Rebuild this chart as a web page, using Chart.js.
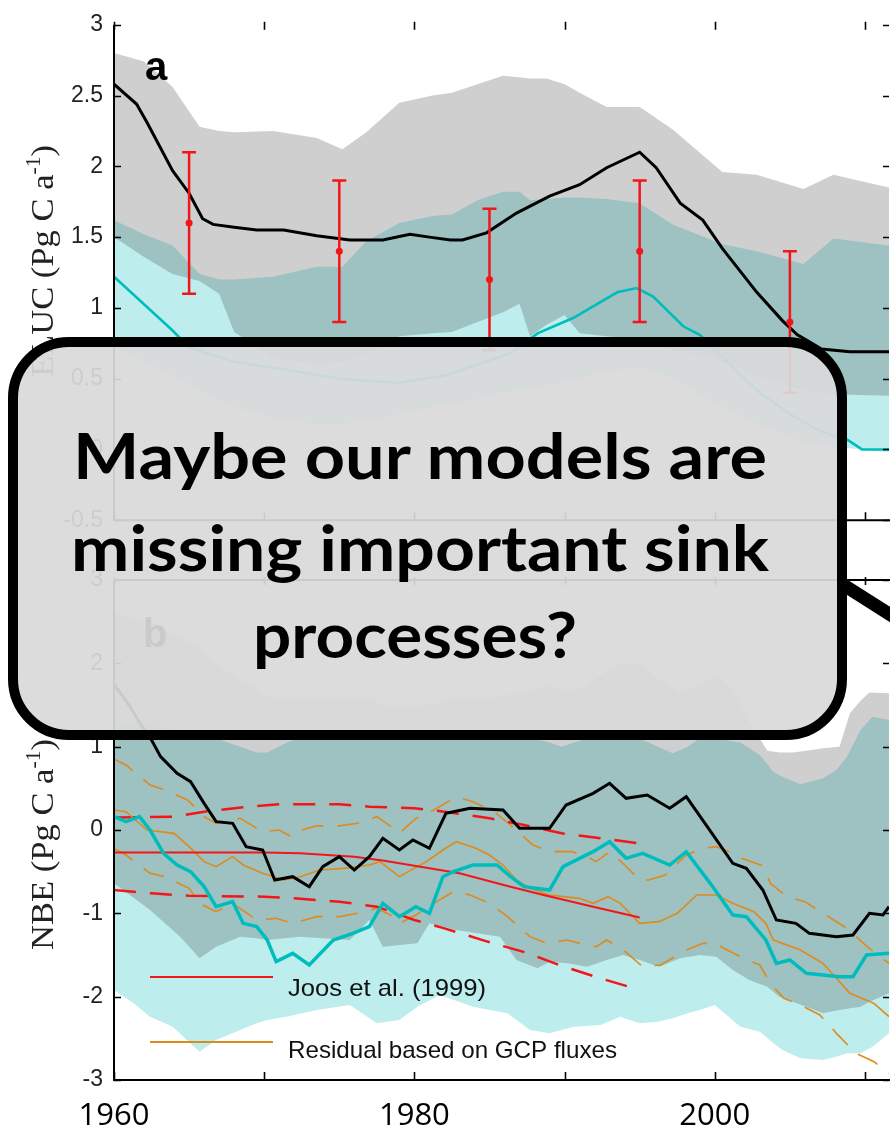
<!DOCTYPE html>
<html>
<head>
<meta charset="utf-8">
<script src="https://cdn.jsdelivr.net/npm/chart.js@4.4.1/dist/chart.umd.min.js"></script>
<style>
    html, body { margin: 0; padding: 0; background: #fff; overflow: hidden; }
    body { width: 890px; height: 1133px; position: relative; }
    canvas { position: absolute; left: 0; }
    #chartA { top: 0; }
    #chartB { top: 545px; }
    #callout { position: absolute; left: 0; top: 0; }
</style>
</head>
<body>
<canvas id="chartA" width="890" height="545"></canvas>
<canvas id="chartB" width="890" height="588"></canvas>

<svg id="callout" width="890" height="1133">
    <line x1="842" y1="584" x2="905" y2="624" stroke="#000" stroke-width="13"/>
    <rect x="13" y="342" width="829" height="393" rx="56" ry="56"
          fill="rgba(217,217,217,0.93)" stroke="#000" stroke-width="10"/>
    <g font-family="Lato" font-weight="bold" font-size="63" fill="#000" text-anchor="middle">
        <text x="420" y="479" textLength="694" lengthAdjust="spacingAndGlyphs">Maybe our models are</text>
        <text x="420" y="571" textLength="698" lengthAdjust="spacingAndGlyphs">missing important sink</text>
        <text x="415" y="658" textLength="324" lengthAdjust="spacingAndGlyphs">processes?</text>
    </g>
</svg>

<script>
// AXES
const X_MIN = 1960;
const X_MAX = 2011.6;
const decadeTicks = [1960, 1970, 1980, 1990, 2000, 2010];
const decadeLabels = ["1960", "", "1980", "", "2000", ""];
const aTicks = [-0.5, 0, 0.5, 1, 1.5, 2, 2.5, 3];
const bTicks = [-3, -2, -1, 0, 1, 2, 3];

// PANEL A - land use change flux
const aBandYears = [1960, 1962, 1963.9, 1965.7, 1967, 1968, 1970.6, 1973.5, 1975.2, 1976.8, 1979, 1981.2, 1982.5, 1984.2, 1985.9, 1987, 1987.7, 1988.8, 1990, 1991, 1992.8, 1995, 1997.2, 2000.5, 2002.8, 2005.9, 2007.9, 2011.6];
const aGrayUpper = [2.80, 2.74, 2.56, 2.28, 2.25, 2.24, 2.25, 2.20, 2.12, 2.24, 2.45, 2.50, 2.52, 2.58, 2.64, 2.63, 2.62, 2.62, 2.58, 2.52, 2.42, 2.42, 2.26, 1.96, 1.94, 1.84, 1.94, 1.85];
const aGrayLower = [1.50, 1.36, 1.24, 1.19, 1.10, 0.83, 0.65, 0.60, 0.62, 0.68, 0.80, 0.82, 0.83, 0.90, 0.97, 1.03, 0.80, 0.88, 0.95, 0.82, 0.80, 0.78, 0.70, 0.62, 0.52, 0.42, 0.39, 0.38];
const aCyanUpper = [1.62, 1.52, 1.44, 1.24, 1.20, 1.20, 1.22, 1.29, 1.29, 1.47, 1.60, 1.65, 1.66, 1.76, 1.82, 1.82, 1.76, 1.77, 1.78, 1.78, 1.77, 1.74, 1.59, 1.45, 1.40, 1.31, 1.49, 1.44];
const aCyanLower = [0.72, 0.62, 0.52, 0.42, 0.35, 0.30, 0.22, 0.18, 0.18, 0.20, 0.25, 0.30, 0.32, 0.36, 0.40, 0.42, 0.43, 0.45, 0.48, 0.50, 0.55, 0.58, 0.50, 0.30, 0.18, 0.05, 0.02, -0.02];

const aBlackYears = [1960, 1961.5, 1962.2, 1963.9, 1965, 1965.9, 1966.6, 1968, 1969.5, 1971.3, 1973.5, 1975.7, 1977.9, 1979.7, 1981, 1982.4, 1983.2, 1984.8, 1986.8, 1989, 1991, 1992.8, 1995, 1996.1, 1997.7, 1999.2, 2000.5, 2002.8, 2004.5, 2005.5, 2006.3, 2007.1, 2009, 2011.6];
const aBlackVals = [2.58, 2.44, 2.31, 1.97, 1.81, 1.63, 1.59, 1.57, 1.55, 1.55, 1.51, 1.48, 1.48, 1.52, 1.50, 1.48, 1.48, 1.53, 1.67, 1.79, 1.87, 1.99, 2.10, 1.99, 1.74, 1.62, 1.42, 1.11, 0.91, 0.81, 0.76, 0.71, 0.69, 0.69];

const aCyanYears = [1960, 1963.9, 1965, 1968, 1971, 1975, 1978.8, 1982, 1986.4, 1988.2, 1990.6, 1993.5, 1994.8, 1995.9, 1997.9, 1999, 2001, 2003, 2005, 2007, 2008.8, 2009.8, 2011.6];
const aCyanVals = [1.22, 0.84, 0.72, 0.62, 0.57, 0.50, 0.47, 0.52, 0.68, 0.82, 0.93, 1.11, 1.14, 1.08, 0.87, 0.81, 0.60, 0.40, 0.25, 0.13, 0.07, 0.00, 0.00];

const aErrYears = [1965, 1975, 1985, 1995, 2005];
const aErrMid = [1.6, 1.4, 1.2, 1.4, 0.9];
const aErrLow = [1.1, 0.9, 0.7, 0.9, 0.4];
const aErrHigh = [2.1, 1.9, 1.7, 1.9, 1.4];

// PANEL B - net biome exchange
const bGrayYears = [1960, 1962.4, 1964.4, 1965.7, 1966.8, 1968.4, 1969.5, 1970.2, 1972.4, 1975.7, 1977, 1977.9, 1980.2, 1981, 1982.8, 1985.7, 1986.8, 1988.2, 1989, 1990.2, 1991.5, 1992.8, 1993.9, 1995, 1996.3, 1997.7, 1999, 2000.1, 2001.2, 2002.3, 2003.5, 2004.3, 2005.2, 2006.1, 2007.2, 2008.3, 2009, 2009.7, 2010.3, 2011.6];
const bGrayUpper = [2.6, 2.5, 2.3, 2.2, 2.0, 1.8, 1.7, 1.6, 1.6, 1.6, 1.6, 1.5, 1.5, 1.5, 1.6, 1.6, 1.65, 1.7, 1.75, 1.65, 1.75, 1.9, 2.0, 2.0, 1.8, 1.65, 1.75, 1.85, 1.7, 1.3, 0.95, 0.93, 0.93, 0.95, 0.98, 1.0, 1.4, 1.55, 1.65, 1.64];
const bGrayLower = [-0.64, -0.96, -1.28, -1.54, -1.40, -1.28, -1.30, -1.32, -1.28, -1.32, -1.08, -1.40, -1.36, -1.12, -1.20, -1.28, -1.56, -1.66, -1.58, -1.60, -1.64, -1.56, -1.50, -1.56, -1.64, -1.54, -1.50, -1.52, -1.68, -1.80, -1.88, -2.00, -2.06, -2.12, -2.20, -2.16, -2.14, -2.12, -2.06, -1.96];

const bCyanBandYears = [1960, 1961.3, 1962.4, 1963.9, 1965.7, 1966.8, 1968.4, 1969.5, 1970.2, 1971.5, 1973.5, 1975.7, 1977.5, 1979, 1980.2, 1981.7, 1983.9, 1986.2, 1987.7, 1989, 1989.8, 1990.6, 1992.4, 1993.7, 1995, 1996.2, 1997.2, 1998.2, 1999, 2000, 2001.7, 2003, 2003.9, 2004.5, 2005.7, 2007.2, 2008.1, 2008.8, 2009.7, 2010.5, 2011.6];
const bCyanUpper = [1.3, 1.3, 1.25, 1.2, 1.15, 1.1, 1.0, 0.93, 0.93, 1.05, 1.2, 1.2, 1.2, 1.2, 1.2, 1.2, 1.15, 1.15, 1.1, 1.05, 1.0, 1.05, 1.15, 1.15, 1.1, 1.0, 0.92, 1.0, 1.1, 1.1, 1.05, 0.9, 0.7, 0.64, 0.55, 0.62, 0.72, 0.88, 1.2, 1.36, 1.32];
const bCyanLower = [-1.92, -2.08, -2.24, -2.36, -2.66, -2.52, -2.40, -2.32, -2.28, -2.24, -2.16, -2.10, -2.32, -2.28, -2.12, -1.98, -2.12, -2.20, -2.40, -2.44, -2.40, -2.36, -2.34, -2.24, -2.32, -2.30, -2.26, -2.20, -2.16, -2.10, -2.36, -2.42, -2.56, -2.64, -2.74, -2.76, -2.72, -2.68, -2.68, -2.60, -2.44];

const bBlackYears = [1960, 1961, 1962, 1962.5, 1963.1, 1964.2, 1965.1, 1966, 1966.8, 1967.9, 1968.8, 1969.9, 1970.7, 1971.9, 1973, 1973.9, 1975, 1976, 1977, 1977.9, 1979, 1979.9, 1981, 1982.1, 1983.7, 1985.9, 1987, 1989, 1990.1, 1991.9, 1993, 1994.1, 1995.5, 1997, 1998.1, 1999.5, 2001.2, 2002.1, 2003.2, 2004.1, 2005.4, 2006.3, 2008.1, 2009.2, 2010.3, 2011.2, 2011.6];
const bBlackVals = [1.75, 1.5, 1.2, 1.08, 0.88, 0.68, 0.58, 0.32, 0.10, 0.08, -0.20, -0.24, -0.60, -0.56, -0.68, -0.44, -0.32, -0.48, -0.32, -0.10, -0.24, -0.12, -0.22, 0.20, 0.26, 0.24, 0.02, 0.02, 0.30, 0.44, 0.56, 0.38, 0.42, 0.26, 0.40, 0.04, -0.40, -0.46, -0.72, -1.08, -1.12, -1.24, -1.28, -1.26, -1.00, -1.02, -0.92];

const bCyanYears = [1960, 1960.8, 1961.7, 1962.4, 1963.3, 1964.2, 1965.1, 1966, 1966.8, 1967.9, 1968.6, 1969.5, 1970.2, 1970.8, 1971.9, 1973, 1974.6, 1975.9, 1977, 1977.9, 1979, 1980.1, 1981, 1981.9, 1982.6, 1983.9, 1985.5, 1986.4, 1987.3, 1989, 1989.9, 1991.9, 1993, 1994.1, 1995.2, 1997, 1998.1, 1999.7, 2001.2, 2002.1, 2003.4, 2004.1, 2005, 2006.1, 2008.3, 2009.2, 2010.1, 2011.6];
const bCyanVals = [0.16, 0.10, 0.16, 0.0, -0.28, -0.42, -0.50, -0.68, -0.92, -0.86, -1.12, -1.16, -1.32, -1.58, -1.48, -1.62, -1.32, -1.24, -1.16, -0.88, -1.04, -0.92, -1.0, -0.56, -0.50, -0.42, -0.42, -0.56, -0.68, -0.72, -0.44, -0.26, -0.14, -0.34, -0.28, -0.42, -0.26, -0.64, -1.02, -1.04, -1.32, -1.60, -1.56, -1.72, -1.76, -1.76, -1.50, -1.48];

const joosYears = [1960, 1965, 1970, 1972.4, 1976, 1978, 1980.4, 1983, 1986.4, 1988.6, 1991.9, 1995];
const joosVals = [-0.27, -0.27, -0.27, -0.28, -0.32, -0.37, -0.44, -0.52, -0.68, -0.78, -0.92, -1.05];
const joosHighYears = [1960, 1964, 1966, 1969, 1971, 1975, 1977, 1980, 1982, 1985, 1987.3, 1989.8, 1992.4, 1995];
const joosHighVals = [0.15, 0.16, 0.22, 0.28, 0.31, 0.31, 0.28, 0.26, 0.22, 0.14, 0.06, -0.04, -0.10, -0.16];
const joosLowYears = [1960, 1962.5, 1965, 1970, 1972, 1975, 1977.5, 1980, 1982, 1984.7, 1987.4, 1989.8, 1992.4, 1995];
const joosLowVals = [-0.72, -0.76, -0.79, -0.80, -0.82, -0.86, -0.92, -1.08, -1.18, -1.33, -1.47, -1.63, -1.78, -1.92];

const gcpYears = [1960, 1960.8, 1962.2, 1964, 1965, 1966, 1966.8, 1967.9, 1968.6, 1969.9, 1971.3, 1972.4, 1973.7, 1975.3, 1977, 1977.7, 1979, 1980.8, 1981.9, 1982.8, 1984.1, 1985, 1985.9, 1986.8, 1987.7, 1989, 1991, 1991.9, 1992.9, 1993.7, 1995, 1996.3, 1997.5, 1998.8, 2000.1, 2001.2, 2002.6, 2003.4, 2003.9, 2005.7, 2007.2, 2009, 2010.6, 2011.6];
const gcpVals = [0.24, 0.22, 0.0, -0.04, -0.20, -0.38, -0.44, -0.32, -0.42, -0.52, -0.60, -0.56, -0.48, -0.46, -0.42, -0.38, -0.56, -0.38, -0.24, -0.14, -0.22, -0.30, -0.42, -0.60, -0.70, -0.78, -0.82, -0.88, -0.80, -0.88, -1.12, -1.10, -1.00, -0.78, -0.78, -0.88, -0.98, -1.12, -1.32, -1.44, -1.60, -1.96, -2.08, -2.24];
const gcpHighYears = [1960, 1960.8, 1962.4, 1963.4, 1964.9, 1966, 1966.8, 1968.4, 1969.9, 1971, 1971.8, 1972.5, 1973.5, 1975, 1976.2, 1977.5, 1978.6, 1979, 1980.1, 1981.3, 1982.8, 1983.9, 1985.3, 1986.4, 1987.9, 1989, 1990.5, 1991.7, 1992.1, 1993, 1994, 1995, 1995.6, 1996.7, 1998.1, 1999.2, 2000.1, 2000.7, 2001.8, 2003.2, 2003.7, 2004.8, 2006, 2007.4, 2008.8, 2009.9, 2010.8, 2011.6];
const gcpHighVals = [0.85, 0.78, 0.54, 0.48, 0.36, 0.16, 0.08, 0.14, -0.02, 0.0, -0.08, 0.0, 0.05, 0.05, 0.08, 0.16, 0.02, -0.04, 0.14, 0.24, 0.40, 0.34, 0.22, 0.06, -0.18, -0.26, -0.26, -0.34, -0.38, -0.26, -0.42, -0.60, -0.60, -0.54, -0.30, -0.22, -0.20, -0.24, -0.34, -0.43, -0.64, -0.80, -0.86, -1.02, -1.18, -1.36, -1.50, -1.60];
const gcpLowYears = [1960, 1960.8, 1962.4, 1963.4, 1965, 1965.7, 1966.8, 1967.9, 1969.5, 1970.8, 1971.9, 1973.5, 1975, 1976.2, 1977.5, 1978.6, 1979, 1980.1, 1981.3, 1982.6, 1983.7, 1985, 1986.2, 1987.7, 1988.8, 1990.2, 1991.4, 1992.1, 1992.8, 1993.9, 1995.2, 1996.4, 1998.1, 1999.2, 2000.1, 2000.6, 2001.7, 2003, 2003.7, 2004.6, 2005.7, 2007, 2008.1, 2009.4, 2010.6, 2011.6];
const gcpLowVals = [-0.22, -0.30, -0.52, -0.56, -0.70, -0.88, -0.98, -0.88, -1.08, -1.06, -1.12, -1.04, -1.04, -1.00, -0.94, -1.04, -1.12, -1.02, -0.88, -0.74, -0.78, -0.88, -1.04, -1.28, -1.36, -1.32, -1.38, -1.40, -1.32, -1.44, -1.64, -1.62, -1.44, -1.36, -1.36, -1.42, -1.52, -1.62, -1.84, -2.02, -2.10, -2.22, -2.44, -2.68, -2.78, -2.92];

const legendNames = ["Joos et al. (1999)", "Residual based on GCP fluxes"];

// COLORS
const GRAY_BAND = "rgba(70,70,70,0.26)";
const CYAN_BAND = "rgb(189,237,237)";
const CYAN = "#00bdbd";
const RED = "#f2161b";
const ORANGE = "#df8a1c";

// HELPERS
function pts(xs, ys) {
    return xs.map((x, i) => ({ x: x, y: ys[i] }));
}

function line(xs, ys, color, width, dash, order) {
    return { data: pts(xs, ys), borderColor: color, borderWidth: width, borderDash: dash || [],
             pointRadius: 0, fill: false, order: order };
}

function bandEdge(xs, ys, order) {
    return { data: pts(xs, ys), borderColor: "rgba(0,0,0,0)", borderWidth: 0, pointRadius: 0,
             fill: false, order: order };
}

function bandFill(xs, ys, target, color, order) {
    return { data: pts(xs, ys), borderColor: "rgba(0,0,0,0)", borderWidth: 0, pointRadius: 0,
             backgroundColor: color, fill: target, order: order };
}

// FRAME (matlab style inward ticks)
function drawFrame(chart, yTicks, topLine) {
    const ctx = chart.ctx;
    const a = chart.chartArea;
    const xs = chart.scales.x;
    const ys = chart.scales.y;

    ctx.save();
    ctx.strokeStyle = "#000";
    ctx.lineWidth = 2;
    ctx.beginPath();
    ctx.moveTo(a.left, a.top);
    ctx.lineTo(a.left, a.bottom);
    ctx.lineTo(a.right + 2, a.bottom);
    if (topLine) {
        ctx.moveTo(a.left, a.top);
        ctx.lineTo(a.right + 2, a.top);
    }
    ctx.stroke();

    ctx.lineWidth = 1.6;
    ctx.beginPath();
    decadeTicks.forEach(v => {
        const px = Math.round(xs.getPixelForValue(v)) + 0.5;
        ctx.moveTo(px, a.bottom); ctx.lineTo(px, a.bottom - 8);
        ctx.moveTo(px, a.top - 3); ctx.lineTo(px, a.top + 5);
    });
    yTicks.forEach(v => {
        const py = Math.round(ys.getPixelForValue(v)) + 0.5;
        ctx.moveTo(a.left, py); ctx.lineTo(a.left + 7, py);
        ctx.moveTo(a.right, py); ctx.lineTo(a.right - 6, py);
    });
    ctx.stroke();
    ctx.restore();
}

// ROTATED Y TITLE
const titleParts = (head) => [
    { text: head, font: "32px 'Liberation Serif'", dy: 0 },
    { text: " (Pg C a", font: "32px 'Liberation Serif'", dy: 0 },
    { text: "-1", font: "20px 'Liberation Serif'", dy: -13 },
    { text: ")", font: "32px 'Liberation Serif'", dy: 0 }
];

function titleWidth(ctx, parts) {
    let w = 0;
    parts.forEach(p => { ctx.font = p.font; w += ctx.measureText(p.text).width; });
    return w;
}

function drawTitle(ctx, parts, xBase, yStart, stretch) {
    ctx.save();
    ctx.translate(xBase, yStart);
    ctx.rotate(-Math.PI / 2);
    ctx.scale(stretch, 1);
    ctx.fillStyle = "#222";
    ctx.textAlign = "left";
    ctx.textBaseline = "alphabetic";
    let cx = 0;
    parts.forEach(p => {
        ctx.font = p.font;
        ctx.fillText(p.text, cx, p.dy);
        cx += ctx.measureText(p.text).width;
    });
    ctx.restore();
}

// stretched legend text so it spans the same width as the original
function legendText(ctx, text, x, y, width) {
    ctx.save();
    ctx.font = "24px 'Liberation Sans'";
    const w = ctx.measureText(text).width;
    ctx.translate(x, y);
    ctx.scale(width / w, 1);
    ctx.fillText(text, 0, 0);
    ctx.restore();
}

// SHARED SCALES
function scales(yMin, yMax, yTicks, showX) {
    const x = {
        type: "linear", min: X_MIN, max: X_MAX, display: showX,
        grid: { display: false, drawTicks: false }, border: { display: false },
        afterBuildTicks: s => { s.ticks = decadeTicks.map(v => ({ value: v })); },
        ticks: {
            autoSkip: false, maxRotation: 0, padding: 18, color: "#000",
            font: { family: "'Open Sans'", size: 31 },
            callback: v => decadeLabels[decadeTicks.indexOf(v)]
        }
    };
    if (showX) x.afterFit = s => { s.height = 53; };

    return {
        x: x,
        y: {
            type: "linear", min: yMin, max: yMax,
            grid: { display: false, drawTicks: false }, border: { display: false },
            afterBuildTicks: s => { s.ticks = yTicks.map(v => ({ value: v })); },
            afterFit: s => { s.width = 114; },
            ticks: {
                padding: 11, color: "#222",
                font: { family: "'Liberation Sans'", size: 23 },
                callback: v => String(v)
            }
        }
    };
}

const baseOptions = {
    responsive: false,
    animation: false,
    devicePixelRatio: 1,
    plugins: { legend: { display: false }, tooltip: { enabled: false } },
    elements: { line: { tension: 0 } }
};

// PANEL A
const panelAExtras = {
    id: "panelAExtras",
    afterDatasetsDraw(chart) {
        const ctx = chart.ctx;
        const xs = chart.scales.x;
        const ys = chart.scales.y;
        ctx.save();
        ctx.strokeStyle = RED;
        ctx.fillStyle = RED;
        ctx.lineWidth = 2.5;
        aErrYears.forEach((yr, i) => {
            const px = xs.getPixelForValue(yr);
            const lo = ys.getPixelForValue(aErrLow[i]);
            const hi = ys.getPixelForValue(aErrHigh[i]);
            ctx.beginPath();
            ctx.moveTo(px, lo); ctx.lineTo(px, hi);
            ctx.moveTo(px - 7, lo); ctx.lineTo(px + 7, lo);
            ctx.moveTo(px - 7, hi); ctx.lineTo(px + 7, hi);
            ctx.stroke();
            ctx.beginPath();
            ctx.arc(px, ys.getPixelForValue(aErrMid[i]), 3.5, 0, Math.PI * 2);
            ctx.fill();
        });
        ctx.restore();
    },
    afterDraw(chart) {
        const ctx = chart.ctx;
        drawFrame(chart, aTicks, false);

        ctx.save();
        ctx.fillStyle = "#000";
        ctx.font = "bold 40px 'Liberation Sans'";
        ctx.fillText("a", 145, 80);
        ctx.restore();

        const parts = titleParts("ELUC");
        const w = titleWidth(ctx, parts) * 1.08;
        drawTitle(ctx, parts, 53, 145 + w, 1.08);
    }
};

new Chart(document.getElementById("chartA"), {
    type: "line",
    data: {
        datasets: [
            line(aBlackYears, aBlackVals, "#000", 3, null, 1),
            line(aCyanYears, aCyanVals, CYAN, 2.6, null, 2),
            bandEdge(aBandYears, aGrayUpper, 5),
            bandFill(aBandYears, aGrayLower, 2, GRAY_BAND, 5),
            bandEdge(aBandYears, aCyanUpper, 6),
            bandFill(aBandYears, aCyanLower, 4, CYAN_BAND, 6)
        ]
    },
    options: Object.assign({}, baseOptions, {
        layout: { autoPadding: false, padding: { top: 15, bottom: 15, left: 0, right: 1 } },
        scales: scales(-0.5, 3, aTicks, false)
    }),
    plugins: [panelAExtras]
});

// PANEL B
const panelBExtras = {
    id: "panelBExtras",
    afterDraw(chart) {
        const ctx = chart.ctx;
        drawFrame(chart, bTicks, true);

        // legend
        ctx.save();
        ctx.lineWidth = 2;
        ctx.strokeStyle = RED;
        ctx.beginPath(); ctx.moveTo(150, 432); ctx.lineTo(273, 432); ctx.stroke();
        ctx.strokeStyle = ORANGE;
        ctx.beginPath(); ctx.moveTo(150, 497); ctx.lineTo(273, 497); ctx.stroke();
        ctx.fillStyle = "#111";
        legendText(ctx, legendNames[0], 288, 451, 198);
        legendText(ctx, legendNames[1], 288, 513, 329);

        ctx.fillStyle = "#000";
        ctx.font = "bold 40px 'Liberation Sans'";
        ctx.fillText("b", 143, 102);
        ctx.restore();

        drawTitle(ctx, titleParts("NBE"), 53, 405, 1.08);
    }
};

new Chart(document.getElementById("chartB"), {
    type: "line",
    data: {
        datasets: [
            line(bBlackYears, bBlackVals, "#000", 3, null, 1),
            line(bCyanYears, bCyanVals, CYAN, 3.5, null, 2),
            line(joosYears, joosVals, RED, 2, null, 3),
            line(gcpYears, gcpVals, ORANGE, 1.6, null, 4),
            line(joosHighYears, joosHighVals, RED, 2.5, [22, 14], 5),
            line(joosLowYears, joosLowVals, RED, 2.5, [22, 14], 5),
            line(gcpHighYears, gcpHighVals, ORANGE, 1.6, [22, 14], 6),
            line(gcpLowYears, gcpLowVals, ORANGE, 1.6, [22, 14], 6),
            bandEdge(bGrayYears, bGrayUpper, 9),
            bandFill(bGrayYears, bGrayLower, 8, GRAY_BAND, 9),
            bandEdge(bCyanBandYears, bCyanUpper, 10),
            bandFill(bCyanBandYears, bCyanLower, 10, CYAN_BAND, 10)
        ]
    },
    options: Object.assign({}, baseOptions, {
        layout: { autoPadding: false, padding: { top: 35, bottom: 0, left: 0, right: 1 } },
        scales: scales(-3, 3, bTicks, true)
    }),
    plugins: [panelBExtras]
});
</script>
</body>
</html>
